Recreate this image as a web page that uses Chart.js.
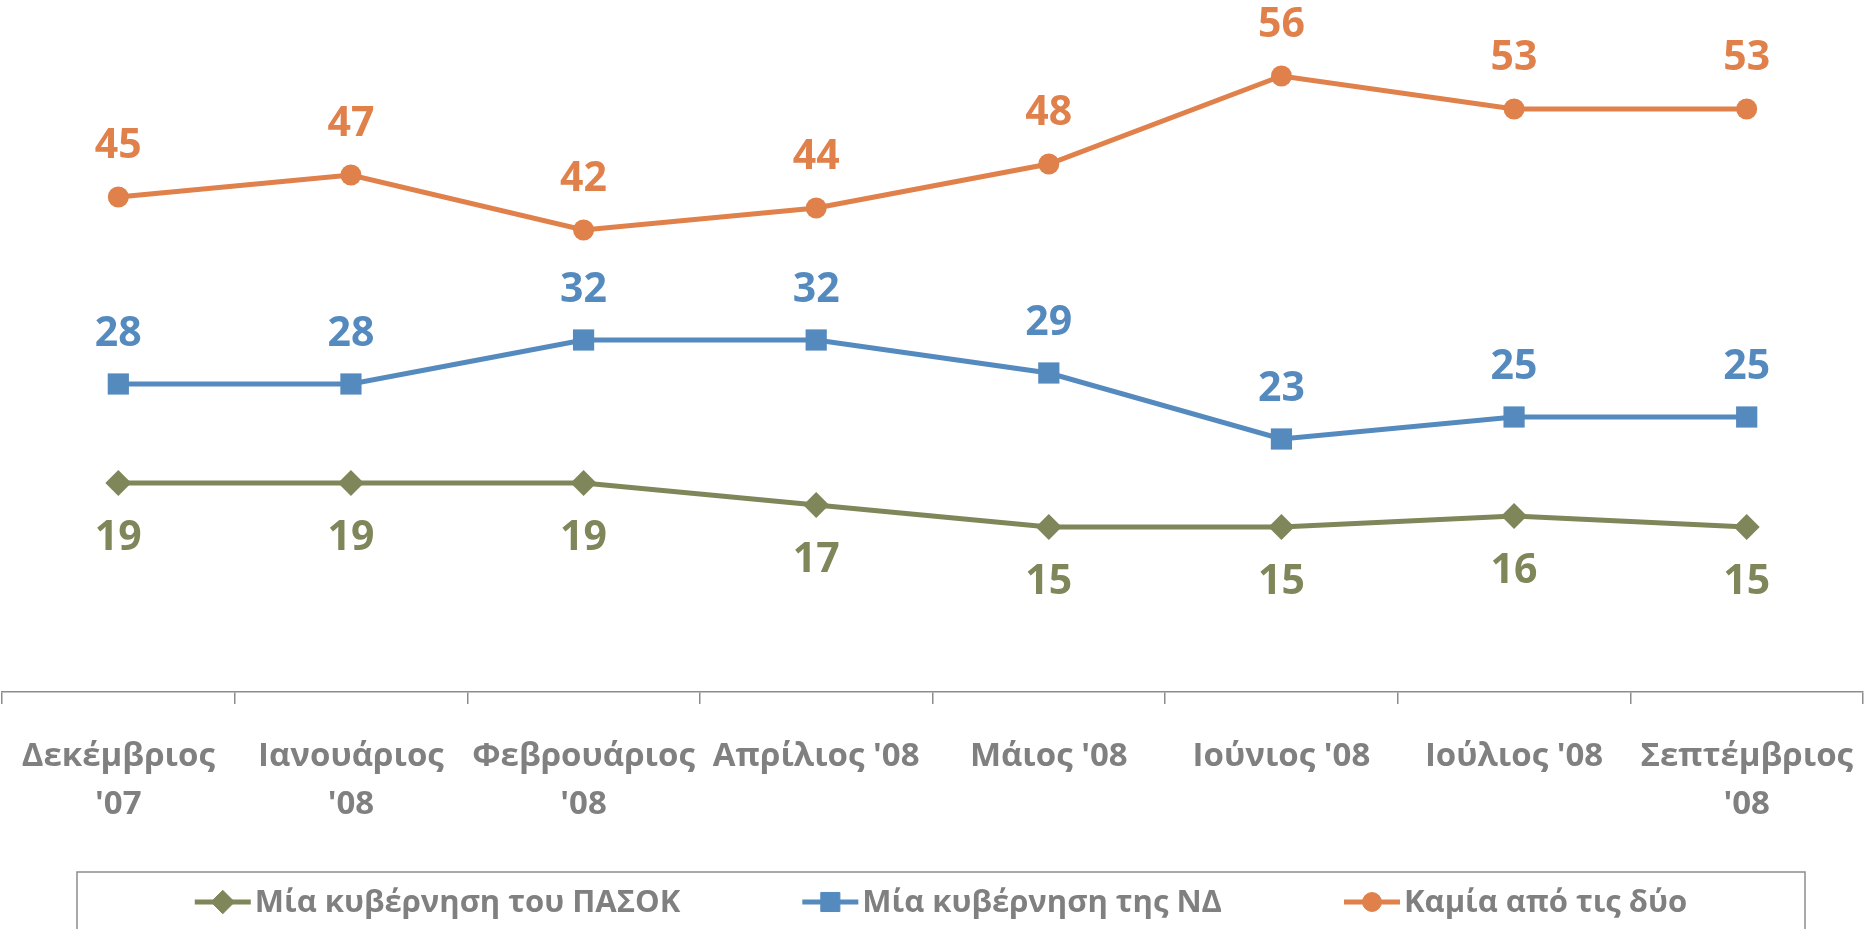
<!DOCTYPE html>
<html>
<head>
<meta charset="utf-8">
<script src="https://cdn.jsdelivr.net/npm/chart.js@4.4.0/dist/chart.umd.min.js"></script>
<style>
html, body { margin: 0; padding: 0; background: #fff; }
#wrap { width: 1865px; height: 929px; position: relative; }
</style>
</head>
<body>
<div id="wrap"><canvas id="myChart"></canvas></div>
<script>
// categories (multi-line ones as arrays)
var labels = [["Δεκέμβριος", "'07"], ["Ιανουάριος", "'08"], ["Φεβρουάριος", "'08"], "Απρίλιος '08", "Μάιος '08", "Ιούνιος '08", "Ιούλιος '08", ["Σεπτέμβριος", "'08"]];
var seriesNames = ["Μία κυβέρνηση του ΠΑΣΟΚ", "Μία κυβέρνηση της ΝΔ", "Καμία από τις δύο"];
var pasok = [19, 19, 19, 17, 15, 15, 16, 15];
var nd = [28, 28, 32, 32, 29, 23, 25, 25];
var none = [45, 47, 42, 44, 48, 56, 53, 53];
var yMin = 0, yMax = 60;

var FONT = "'Open Sans', 'Noto Sans', sans-serif";
var GREY = "#808080";

// value labels above / below each point
var valueLabels = {
    id: "valueLabels",
    afterDatasetsDraw: function (chart) {
        var ctx = chart.ctx;
        ctx.save();
        ctx.font = "bold 41px " + FONT;
        ctx.textAlign = "center";
        ctx.textBaseline = "middle";
        chart.data.datasets.forEach(function (ds, i) {
            var meta = chart.getDatasetMeta(i);
            ctx.fillStyle = ds.borderColor;
            meta.data.forEach(function (pt, j) {
                ctx.fillText(ds.data[j], pt.x, pt.y + ds.labelOffset);
            });
        });
        ctx.restore();
    }
};

// excel-like legend: line + marker, inside a grey box
var boxLegend = {
    id: "boxLegend",
    afterDraw: function (chart) {
        var ctx = chart.ctx;
        var left = 77, right = 1805, top = 872;
        ctx.save();
        ctx.strokeStyle = "#8c8c8c";
        ctx.lineWidth = 1.5;
        ctx.strokeRect(left, top, right - left, 90);
        ctx.font = "bold 31px " + FONT;
        var lineW = 56, gapText = 4, gapItem = 122;
        var widths = chart.data.datasets.map(function (ds) {
            return lineW + gapText + ctx.measureText(ds.label).width;
        });
        var total = widths.reduce(function (a, b) { return a + b; }, 0) + gapItem * (widths.length - 1);
        var x = (left + right) / 2 - total / 2;
        var y = 902;
        chart.data.datasets.forEach(function (ds, i) {
            ctx.strokeStyle = ds.borderColor;
            ctx.lineWidth = ds.borderWidth;
            ctx.beginPath();
            ctx.moveTo(x, y);
            ctx.lineTo(x + lineW, y);
            ctx.stroke();
            ctx.fillStyle = ds.borderColor;
            ctx.lineWidth = 1;
            Chart.helpers.drawPoint(ctx, {pointStyle: ds.pointStyle, radius: ds.pointRadius * 0.9, borderWidth: 1, rotation: 0}, x + lineW / 2, y);
            ctx.fillStyle = GREY;
            ctx.textAlign = "left";
            ctx.textBaseline = "middle";
            ctx.fillText(ds.label, x + lineW + gapText, y + 1);
            x += widths[i] + gapItem;
        });
        ctx.restore();
    }
};

var myChart = document.getElementById("myChart").getContext("2d");
var lineChart = new Chart(myChart, {
    type: "line",
    data: {
        labels: labels,
        datasets: [{
            label: seriesNames[0],
            data: pasok,
            borderColor: "#7F8659",
            backgroundColor: "#7F8659",
            borderWidth: 5,
            pointStyle: "rectRot",
            pointRadius: 13,
            pointBorderWidth: 0,
            labelOffset: 55
        }, {
            label: seriesNames[1],
            data: nd,
            borderColor: "#558ABE",
            backgroundColor: "#558ABE",
            borderWidth: 5,
            pointStyle: "rect",
            pointRadius: 15,
            pointBorderWidth: 0,
            labelOffset: -50
        }, {
            label: seriesNames[2],
            data: none,
            borderColor: "#E0804A",
            backgroundColor: "#E0804A",
            borderWidth: 5,
            pointStyle: "circle",
            pointRadius: 10.5,
            pointBorderWidth: 0,
            labelOffset: -51
        }]
    },
    options: {
        responsive: true,
        maintainAspectRatio: false,
        animation: false,
        layout: {
            autoPadding: false,
            padding: {top: 32, left: 2, right: 2, bottom: 72}
        },
        plugins: {
            legend: {display: false},
            tooltip: {enabled: false}
        },
        elements: {
            line: {tension: 0}
        },
        scales: {
            y: {
                display: false,
                min: yMin,
                max: yMax
            },
            x: {
                offset: true,
                grid: {
                    display: true,
                    offset: true,
                    drawOnChartArea: false,
                    drawTicks: true,
                    tickLength: 12,
                    color: "#8c8c8c",
                    lineWidth: 1.5
                },
                border: {display: true, color: "#8c8c8c", width: 1.5},
                ticks: {
                    color: GREY,
                    padding: 28,
                    maxRotation: 0,
                    autoSkip: false,
                    font: {family: FONT, size: 33, weight: "bold", lineHeight: 1.47}
                },
                afterFit: function (scale) {
                    scale.paddingLeft = 0;
                    scale.paddingRight = 0;
                }
            }
        }
    },
    plugins: [valueLabels, boxLegend]
});
</script>
</body>
</html>
